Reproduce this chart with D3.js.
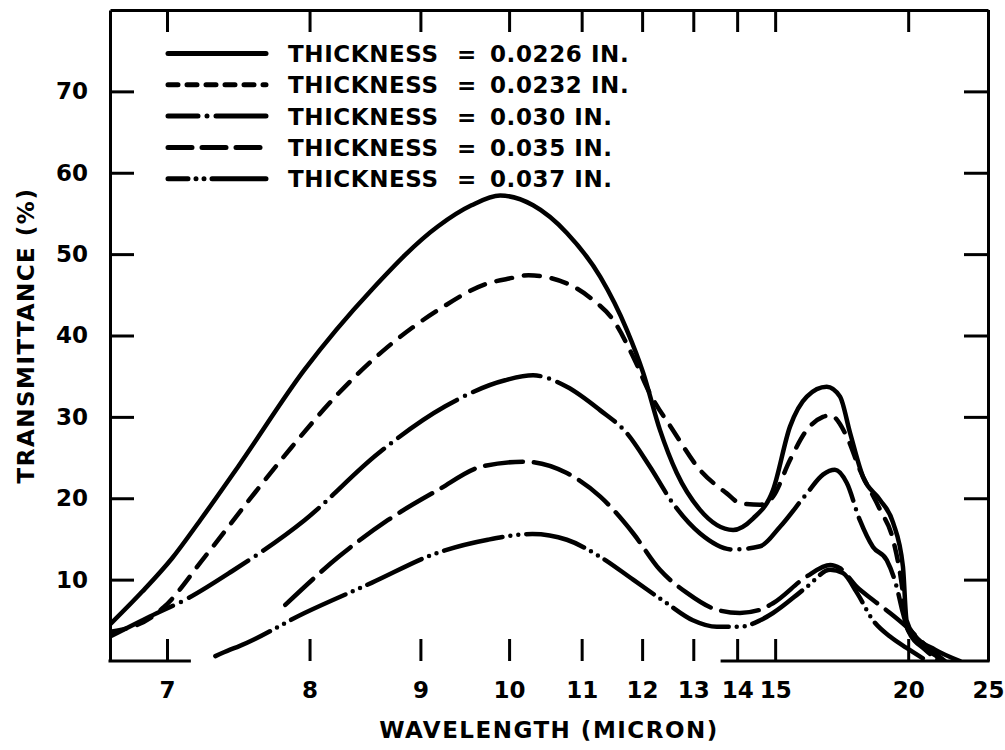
<!DOCTYPE html>
<html>
<head>
<meta charset="utf-8">
<script src="https://cdn.jsdelivr.net/npm/d3@7"></script>
<style>
  body { margin: 0; background: #fff; }
  svg { display: block; }
</style>
</head>
<body>
<div id="chart"></div>
<script>
// wavelength ticks (micron) and transmittance ticks (%)
var xTicks = [7, 8, 9, 10, 11, 12, 13, 14, 15, 20, 25];
var yTicks = [10, 20, 30, 40, 50, 60, 70];

// pieces of the bottom frame line that are actually printed (micron)
var bottomFrame = [[20 / 3, 7.14], [13.64, 25]];

var thickness = ["0.0226", "0.0232", "0.030", "0.035", "0.037"];

// curves: wavelength (micron) / transmittance (%)
var wl0226 = [6.667, 6.85, 7.03, 7.21, 7.47, 7.96, 8.53, 9.18, 9.55, 9.89, 10.31, 10.78, 11.29, 11.73, 12.02, 12.33, 12.66, 13.14, 13.90, 14.40, 14.94, 15.43, 15.95, 16.61, 17.08, 17.46, 17.97, 18.68, 19.27, 19.74, 19.92, 20.35, 21.44, 22.98];
var tr0226 = [4.5, 8.5, 12.6, 17.3, 24.0, 35.8, 45.6, 53.4, 56.0, 57.2, 56.0, 52.6, 47.2, 40.7, 35.4, 28.4, 23.1, 18.6, 16.1, 17.5, 21.0, 28.8, 32.5, 33.7, 32.5, 28.0, 22.6, 19.8, 17.0, 11.6, 5.0, 3.1, 1.4, 0];

var wl0232 = [6.667, 6.90, 6.98, 7.24, 7.59, 7.86, 8.24, 8.68, 9.18, 9.74, 10.0, 10.25, 10.78, 11.17, 11.50, 11.84, 12.14, 12.58, 13.14, 13.75, 14.07, 14.59, 14.94, 15.43, 15.95, 16.48, 16.73, 17.33, 17.84, 18.68, 19.27, 19.74, 19.92, 20.61, 22.03];
var tr0232 = [3.6, 5.3, 6.6, 12.8, 20.8, 26.3, 32.9, 38.6, 43.1, 46.4, 47.0, 47.4, 46.4, 44.4, 41.9, 37.4, 32.9, 28.4, 23.5, 20.6, 19.4, 19.2, 20.2, 24.7, 28.4, 30.0, 30.2, 27.6, 23.5, 18.6, 14.9, 8.3, 4.2, 2.2, 0];

var wl030 = [6.667, 6.90, 7.14, 7.42, 7.96, 8.59, 9.26, 9.95, 10.31, 10.78, 11.29, 11.73, 12.14, 12.58, 13.14, 13.90, 14.59, 15.14, 15.95, 16.48, 16.90, 17.33, 17.84, 18.38, 18.98, 19.44, 19.74, 19.99, 20.88, 21.73];
var tr030 = [3.0, 5.5, 7.8, 11.0, 17.3, 25.5, 31.3, 34.5, 35.1, 33.7, 30.8, 28.0, 23.9, 19.4, 15.7, 13.7, 14.1, 16.5, 20.6, 22.9, 23.5, 21.9, 17.3, 14.0, 12.4, 9.1, 5.9, 3.8, 1.4, 0];

var wl035 = [7.81, 8.24, 8.68, 9.18, 9.67, 10.2, 10.78, 11.29, 11.84, 12.33, 12.86, 13.52, 14.07, 14.59, 14.94, 15.95, 16.73, 17.08, 17.72, 18.38, 19.13, 19.92, 20.88, 22.03];
var tr035 = [6.9, 12.8, 17.3, 21.0, 23.9, 24.5, 23.1, 20.2, 15.7, 11.2, 8.4, 6.3, 5.9, 6.3, 7.1, 10.4, 11.8, 11.4, 9.1, 7.5, 5.9, 4.2, 2.0, 0];

var wl037 = [7.31, 7.41, 7.47, 7.96, 8.53, 9.18, 9.74, 10.3, 10.78, 11.29, 11.84, 12.46, 12.99, 13.52, 14.07, 14.59, 14.94, 15.95, 16.73, 17.19, 17.72, 18.38, 19.13, 19.92, 20.99];
var tr037 = [0.6, 1.4, 1.8, 5.9, 9.6, 13.3, 14.9, 15.6, 14.9, 12.8, 10.0, 7.1, 5.0, 4.2, 4.2, 5.0, 5.9, 9.1, 11.2, 10.8, 8.4, 5.0, 3.0, 1.6, 0];

var series = [
  {name: thickness[0], wl: wl0226, tr: tr0226, dash: null, legendDash: null, legendOffset: 0},
  {name: thickness[1], wl: wl0232, tr: tr0232, dash: "16,12", legendDash: "10,9", legendOffset: 0},
  {name: thickness[2], wl: wl030, tr: tr030, dash: "70,9,0,9", legendDash: "70,9,0,9", legendOffset: 40},
  {name: thickness[3], wl: wl035, tr: tr035, dash: "38,11", legendDash: "24,10", legendOffset: 0},
  {name: thickness[4], wl: wl037, tr: tr037, dash: "60,8,0,8,0,8", legendDash: "60,8,0,8,0,8", legendOffset: 40}
];

var W = 1005, H = 750;
var margin = {top: 10, right: 17, bottom: 89, left: 110};
var width = W - margin.left - margin.right;
var height = H - margin.top - margin.bottom;
var font = "'DejaVu Sans', sans-serif";

var svg = d3.select("#chart")
  .append("svg")
    .attr("width", W)
    .attr("height", H)
  .append("g")
    .attr("transform", "translate(" + margin.left + "," + margin.top + ")");

// wavelength axis is linear in wavenumber, i.e. in 1/lambda
var x = d3.scalePow().exponent(-1).domain([20 / 3, 25]).range([0, width]);
var y = d3.scaleLinear().domain([0, 80]).range([height, 0]);

function styleAxis(g) {
  g.attr("font-family", font).attr("font-size", 23).attr("font-weight", "bold");
  g.selectAll("line").attr("stroke", "#000").attr("stroke-width", 3);
  g.selectAll(".domain").attr("stroke", "#000").attr("stroke-width", 3);
  g.selectAll("text").attr("fill", "#000");
}

svg.append("g")
  .attr("transform", "translate(0," + height + ")")
  .call(d3.axisBottom(x).tickValues(xTicks).tickSizeInner(-22).tickSizeOuter(0)
    .tickPadding(21).tickFormat(d3.format("d")))
  .call(function(g) { g.select(".domain").remove(); })
  .call(styleAxis);

svg.append("g")
  .call(d3.axisTop(x).tickValues(xTicks).tickSizeInner(-22).tickSizeOuter(0).tickFormat(""))
  .call(styleAxis);

svg.append("g")
  .call(d3.axisLeft(y).tickValues(yTicks).tickSizeInner(-24).tickSizeOuter(0).tickPadding(22))
  .call(styleAxis);

svg.append("g")
  .attr("transform", "translate(" + width + ",0)")
  .call(d3.axisRight(y).tickValues(yTicks).tickSizeInner(-24).tickSizeOuter(0).tickFormat(""))
  .call(styleAxis);

svg.append("g")
  .selectAll("line")
  .data(bottomFrame)
  .enter()
  .append("line")
    .attr("x1", function(d) { return x(d[0]); })
    .attr("x2", function(d) { return x(d[1]); })
    .attr("y1", y(0))
    .attr("y2", y(0))
    .attr("stroke", "#000")
    .attr("stroke-width", 3)
    .attr("stroke-linecap", "square");

// curves
svg.append("clipPath").attr("id", "plot-clip")
  .append("rect").attr("width", width).attr("height", height);

var line = d3.line()
  .x(function(d) { return x(d[0]); })
  .y(function(d) { return y(d[1]); })
  .curve(d3.curveMonotoneX);

svg.append("g")
  .attr("clip-path", "url(#plot-clip)")
  .selectAll("path")
  .data(series)
  .enter()
  .append("path")
    .attr("fill", "none")
    .attr("stroke", "#000")
    .attr("stroke-width", 4.5)
    .attr("stroke-linecap", "round")
    .attr("stroke-linejoin", "round")
    .attr("stroke-dasharray", function(d) { return d.dash; })
    .attr("d", function(d) { return line(d3.zip(d.wl, d.tr)); });

// legend
var legend = svg.append("g")
  .attr("font-family", font)
  .attr("font-size", 23)
  .attr("font-weight", "bold")
  .attr("letter-spacing", 0.6);

var rows = legend.selectAll("g")
  .data(series)
  .enter()
  .append("g")
    .attr("transform", function(d, i) { return "translate(0," + (43.5 + i * 31.3) + ")"; });

rows.append("line")
  .attr("x1", 58).attr("x2", 156)
  .attr("stroke", "#000")
  .attr("stroke-width", 5)
  .attr("stroke-linecap", "round")
  .attr("stroke-dasharray", function(d) { return d.legendDash; })
  .attr("stroke-dashoffset", function(d) { return d.legendOffset; });

rows.append("text")
  .attr("x", 178).attr("y", 8.4)
  .text("THICKNESS");

rows.append("text")
  .attr("x", 347).attr("y", 8.4)
  .text("=");

rows.append("text")
  .attr("x", 380).attr("y", 8.4)
  .text(function(d) { return d.name + " IN."; });

// axis titles
svg.append("text")
  .attr("x", width / 2)
  .attr("y", height + 77)
  .attr("text-anchor", "middle")
  .attr("font-family", font)
  .attr("font-size", 23)
  .attr("font-weight", "bold")
  .attr("letter-spacing", 1.5)
  .text("WAVELENGTH (MICRON)");

svg.append("text")
  .attr("transform", "translate(" + (-76) + "," + (height / 2) + ") rotate(-90)")
  .attr("text-anchor", "middle")
  .attr("font-family", font)
  .attr("font-size", 23)
  .attr("font-weight", "bold")
  .attr("letter-spacing", 1.5)
  .text("TRANSMITTANCE (%)");
</script>
</body>
</html>
